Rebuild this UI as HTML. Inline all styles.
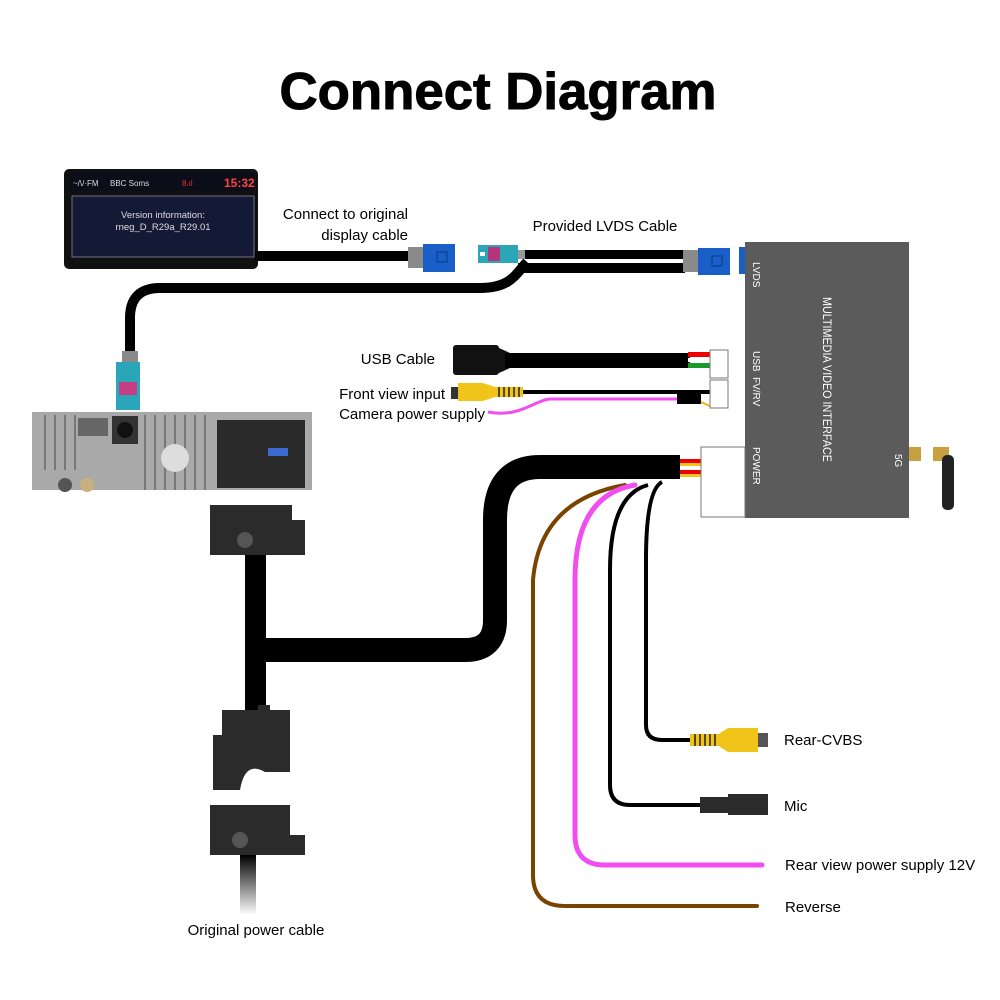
<!DOCTYPE html>
<html><head><meta charset="utf-8"><style>
html,body{margin:0;padding:0;background:#fff}
svg{display:block}
text{font-family:"Liberation Sans",sans-serif}
</style></head><body>
<svg width="1000" height="1000" viewBox="0 0 1000 1000" xmlns="http://www.w3.org/2000/svg">
<defs>
<linearGradient id="fade" x1="0" y1="0" x2="0" y2="1"><stop offset="0" stop-color="#000"/><stop offset="1" stop-color="#fff"/></linearGradient>
</defs>
<text x="498" y="109" font-size="52" font-weight="bold" text-anchor="middle" textLength="437" lengthAdjust="spacingAndGlyphs" stroke="#000" stroke-width="1">Connect Diagram</text>

<!-- display -->
<rect x="64" y="169" width="194" height="100" rx="5" fill="#111"/>
<rect x="70" y="173" width="184" height="18" fill="#0b0d18"/>
<text x="73" y="186" font-size="8" fill="#ddd">~/\/·FM</text>
<text x="110" y="186" font-size="8" fill="#ddd">BBC Soms</text>
<text x="182" y="186" font-size="8" fill="#e33">8.ıl</text>
<text x="224" y="187" font-size="12" fill="#f44" font-weight="bold">15:32</text>
<rect x="72" y="196" width="182" height="61" fill="#141a36" stroke="#889" stroke-width="0.8"/>
<text x="163" y="218" font-size="9.5" fill="#ddd" text-anchor="middle">Version information:</text>
<text x="163" y="230" font-size="9.5" fill="#ddd" text-anchor="middle">rneg_D_R29a_R29.01</text>

<text x="408" y="219" font-size="15" text-anchor="end">Connect to original</text>
<text x="408" y="240" font-size="15" text-anchor="end">display cable</text>
<text x="605" y="231" font-size="15" text-anchor="middle">Provided LVDS Cable</text>

<!-- display cable -->
<rect x="255" y="251" width="155" height="10" fill="#000"/>
<rect x="408" y="247" width="16" height="21" fill="#8a8a8a"/>
<rect x="423" y="244" width="32" height="28" fill="#1a5fc8"/>
<rect x="437" y="252" width="10" height="10" fill="none" stroke="#0a3a80"/>
<!-- teal connector -->
<rect x="478" y="245" width="40" height="18" fill="#2aa6b8"/>
<rect x="488" y="247" width="12" height="14" fill="#b3357a"/>
<rect x="480" y="252" width="5" height="4" fill="#fff"/>
<rect x="518" y="250" width="8" height="9" fill="#999"/>
<!-- LVDS cables -->
<rect x="525" y="250" width="160" height="9" fill="#000"/>
<path d="M518 268 H685" stroke="#000" stroke-width="10"/>
<path d="M527 262 C515 275 510 288 480 288 H160 Q130 288 130 318 V355" stroke="#000" stroke-width="10" fill="none"/>
<rect x="683" y="250" width="16" height="22" fill="#8a8a8a"/>
<rect x="698" y="248" width="32" height="27" fill="#1a5fc8"/>
<rect x="712" y="256" width="10" height="10" fill="none" stroke="#0a3a80"/>
<rect x="739" y="251" width="6" height="23" fill="#1a5fc8"/>
<!-- teal vertical connector -->
<rect x="122" y="351" width="16" height="12" fill="#8a8a8a"/>
<rect x="116" y="362" width="24" height="48" fill="#2aa6b8"/>
<rect x="119" y="382" width="18" height="13" fill="#c43d85"/>

<!-- USB -->
<text x="435" y="364" font-size="15" text-anchor="end">USB Cable</text>
<rect x="453" y="345" width="46" height="30" rx="3" fill="#111"/>
<path d="M499 348 L510 353 V368 L499 373Z" fill="#111"/>
<rect x="505" y="353" width="185" height="15" fill="#000"/>
<rect x="688" y="352" width="22" height="5" fill="#e00"/>
<rect x="688" y="358" width="22" height="4" fill="#fff"/>
<rect x="688" y="363" width="22" height="5" fill="#1a9a2a"/>
<path d="M710 350 H728 V378 H710Z" fill="#fff" stroke="#777"/>
<!-- front view -->
<text x="445" y="399" font-size="15" text-anchor="end">Front view input</text>
<text x="485" y="419" font-size="15" text-anchor="end">Camera power supply</text>
<rect x="451" y="387" width="8" height="12" fill="#333"/>
<path d="M458 383 H483 L495 387 V397 L483 401 H458Z" fill="#f0c419"/>
<rect x="495" y="387" width="28" height="10" fill="#f0c419"/>
<g stroke="#222" stroke-width="1.5"><path d="M499 387V397M504 387V397M509 387V397M514 387V397M519 387V397"/></g>
<rect x="523" y="390" width="190" height="4" fill="#000"/>
<path d="M488 412 C520 418 535 400 550 399 H700" stroke="#f04ef0" stroke-width="3" fill="none"/>
<rect x="677" y="394" width="24" height="10" fill="#000"/>
<path d="M701 402 L712 407" stroke="#e8b800" stroke-width="2"/>
<path d="M710 380 H728 V408 H710Z" fill="#fff" stroke="#777"/>

<!-- box -->
<rect x="745" y="242" width="164" height="276" fill="#5b5b5b"/>
<rect x="739" y="247" width="6" height="22" fill="#1a5fc8"/>
<rect x="739" y="448" width="6" height="60" fill="#ccd"/>
<g font-size="10" fill="#fff">
<text transform="translate(753,262) rotate(90)">LVDS</text>
<text transform="translate(753,351) rotate(90)">USB</text>
<text transform="translate(753,377) rotate(90)">FV/RV</text>
<text transform="translate(753,447) rotate(90)">POWER</text>
<text transform="translate(895,454) rotate(90)">5G</text>
<text transform="translate(823,297) rotate(90)" font-size="12" textLength="165" lengthAdjust="spacingAndGlyphs">MULTIMEDIA  VIDEO  INTERFACE</text>
</g>
<rect x="909" y="447" width="12" height="14" fill="#c8a040"/>
<rect x="933" y="447" width="16" height="14" fill="#c8a040"/>
<rect x="942" y="455" width="12" height="55" rx="5" fill="#222"/>

<!-- radio unit -->
<rect x="32" y="412" width="280" height="78" fill="#a9a9a9"/>
<g stroke="#777" stroke-width="2">
<path d="M45 415V470M55 415V470M65 415V470M75 415V470M145 415V490M155 415V490M165 415V490M175 415V490M185 415V490M195 415V490M205 415V490"/>
</g>
<rect x="78" y="418" width="30" height="18" fill="#666"/>
<rect x="112" y="416" width="26" height="28" fill="#333"/>
<circle cx="125" cy="430" r="8" fill="#111"/>
<circle cx="175" cy="458" r="14" fill="#ddd"/>
<rect x="217" y="420" width="88" height="68" fill="#2a2a2a"/>
<rect x="268" y="448" width="20" height="8" fill="#3a6ad0"/>
<circle cx="65" cy="485" r="7" fill="#555"/>
<circle cx="87" cy="485" r="7" fill="#c8b080"/>

<!-- main power cable -->
<path d="M680 467 H540 Q495 467 495 520 V620 Q495 650 465 650 H255" stroke="#000" stroke-width="24" fill="none"/>
<rect x="245" y="555" width="21" height="160" fill="#000"/>
<path d="M210 505 H292 V520 H305 V555 H210Z" fill="#2b2b2b"/>
<circle cx="245" cy="540" r="8" fill="#555"/>
<path d="M222 710 H258 V705 H270 V710 H290 V772 H265 Q245 760 240 790 H213 V735 H222Z" fill="#2b2b2b"/>
<path d="M210 805 H290 V835 H305 V855 H210Z" fill="#2b2b2b"/>
<circle cx="240" cy="840" r="8" fill="#555"/>
<rect x="240" y="855" width="16" height="60" fill="url(#fade)"/>
<text x="256" y="935" font-size="15" text-anchor="middle">Original power cable</text>

<!-- wires -->
<path d="M625 485 Q540 500 533 580 V875 Q533 906 565 906 H757" stroke="#7a4400" stroke-width="4" fill="none" stroke-linecap="round"/>
<path d="M635 485 Q575 495 575 580 V835 Q575 865 605 865 H762" stroke="#f04ef0" stroke-width="5" fill="none" stroke-linecap="round"/>
<path d="M648 485 Q610 495 610 570 V785 Q610 805 630 805 H705" stroke="#000" stroke-width="4" fill="none"/>
<path d="M662 482 Q646 490 646 560 V725 Q646 740 662 740 H692" stroke="#000" stroke-width="4" fill="none"/>
<rect x="680" y="459" width="22" height="4" fill="#e00"/>
<rect x="680" y="463" width="22" height="3" fill="#f0c419"/>
<rect x="680" y="470" width="22" height="4" fill="#e00"/>
<rect x="680" y="474" width="22" height="3" fill="#f0c419"/>
<path d="M701 447 H745 V517 H701Z" fill="#fff" stroke="#777"/>
<!-- RCA -->
<rect x="690" y="734" width="30" height="12" fill="#f0c419"/>
<g stroke="#222" stroke-width="1.5"><path d="M695 734V746M700 734V746M705 734V746M710 734V746M715 734V746"/></g>
<path d="M720 733 L728 728 H758 V752 H728 L720 747Z" fill="#f0c419"/>
<rect x="758" y="733" width="10" height="14" fill="#555"/>
<text x="784" y="745" font-size="15">Rear-CVBS</text>
<!-- mic -->
<path d="M700 797 H728 V794 H768 V815 H728 V813 H700Z" fill="#2b2b2b"/>
<text x="784" y="811" font-size="15">Mic</text>
<text x="785" y="870" font-size="15">Rear view power supply 12V</text>
<text x="785" y="912" font-size="15">Reverse</text>
</svg>
</body></html>
